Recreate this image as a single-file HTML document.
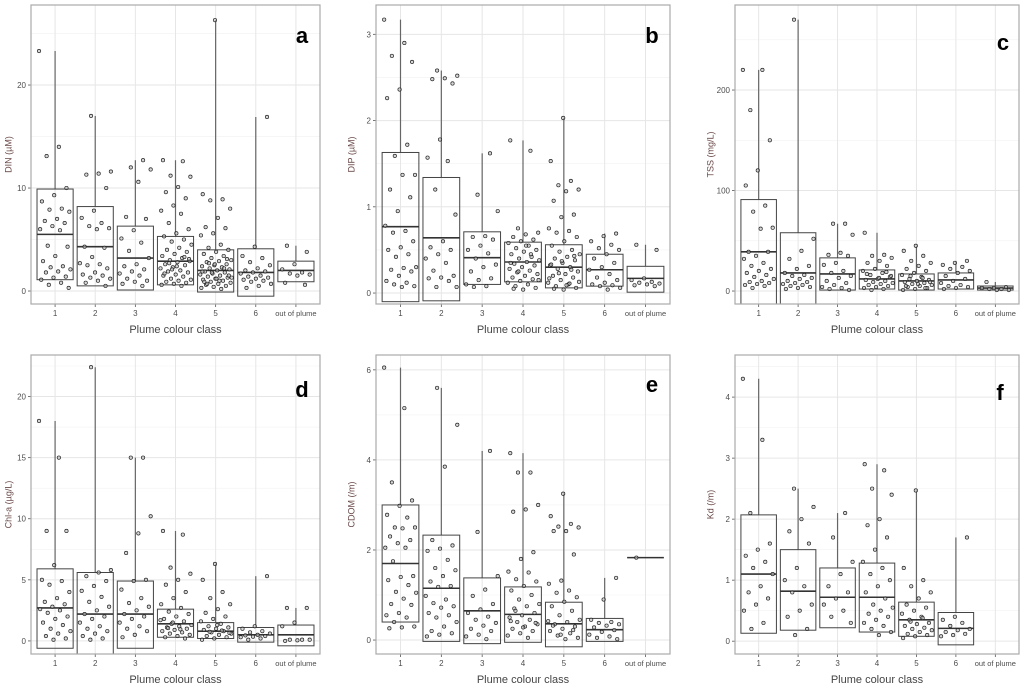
<!DOCTYPE html>
<html><head><meta charset="utf-8"><style>
body{margin:0;background:#fff;width:1024px;height:689px;overflow:hidden}
svg text{font-family:"Liberation Sans",sans-serif}
</style></head><body>
<svg id="fig" width="1024" height="689"></svg>
<script>
const categories=["1","2","3","4","5","6","out of plume"];
const aLo=[1.1,0.5,0.1,0.6,-0.1,-0.5,0.9],aMed=[5.5,4.3,3.2,2.9,2.0,1.8,2.0],aHi=[9.9,8.2,6.3,5.3,4.0,4.1,2.9],aMax=[23.3,17,12.7,12.7,26.3,16.9,4.4];
const aPts=[[23.3,14,13.1,10,9.3,8.7,8,7.9,7.7,7,6.8,6.6,6.3,6,5.9,4.4,4.3,3.4,2.9,2.4,2.3,2.1,1.9,1.8,1.4,1.3,1.1,0.8,0.6,0.3],[17,11.6,11.4,11.3,10,7.8,7.1,6.6,6.3,6.1,6,4.3,4.2,3.3,2.7,2.6,2.5,2.2,1.8,1.6,1.5,1.3,1.2,1,0.8,0.5],[12.7,12,11.8,10.6,7.2,7,5.9,5.1,4.7,3.9,3.2,2.6,2.4,2.1,1.9,1.7,1.5,1.2,1,0.9,0.7,0.5],[12.7,12.6,11.2,11.1,10.1,9.6,9,8.3,7.8,7.5,6.6,6,5.6,5.3,5,4.8,4.5,4.2,4,3.8,3.6,3.4,3.2,3,2.9,2.8,2.6,2.5,2.3,2.2,2,1.9,1.8,1.6,1.5,1.4,1.2,1.1,1,0.9,0.8,0.7,0.6,0.5,2.7,3.1,2.4,1.7,3.3,2.1],[26.3,9.4,8.9,8.8,8,7.1,6.2,6.1,5.6,5.4,4.5,4.2,4,3.8,3.6,3.4,3.2,3,2.9,2.8,2.6,2.5,2.4,2.3,2.2,2.1,2,1.9,1.8,1.7,1.6,1.5,1.4,1.3,1.2,1.1,1,0.9,0.8,0.7,0.6,0.5,0.4,0.3,0.2,2.7,1.5,1.2,0.9,2.2,1.8,1.3,1.0,0.7,3.1,2.6,1.9],[16.9,4.3,3.4,3.2,2.8,2.5,2.2,2,1.9,1.8,1.7,1.5,1.4,1.3,1.2,1.1,1,0.9,0.7,0.5,0.3],[4.4,3.8,2.6,2.1,1.8,1.7,1.6,1.5,0.8,0.6]];
const bLo=[-0.1,-0.09,0.1,0.13,0.06,0.08,0.01],bMed=[0.77,0.64,0.41,0.36,0.30,0.27,0.17],bHi=[1.63,1.34,0.71,0.59,0.56,0.45,0.31],bMax=[3.17,2.58,1.62,1.77,2.03,0.69,0.56];
const bPts=[[3.17,2.9,2.75,2.68,2.36,2.26,1.72,1.59,1.37,1.37,1.2,1.11,0.95,0.78,0.72,0.7,0.6,0.53,0.5,0.45,0.42,0.3,0.29,0.27,0.25,0.2,0.14,0.12,0.1,0.08,0.07],[2.58,2.52,2.49,2.48,2.43,1.78,1.57,1.53,1.2,0.91,0.6,0.53,0.5,0.45,0.4,0.35,0.26,0.2,0.18,0.17,0.14,0.07,0.07],[1.62,1.14,0.95,0.66,0.65,0.62,0.55,0.5,0.46,0.4,0.33,0.3,0.25,0.17,0.15,0.1,0.08,0.07],[1.77,1.65,0.75,0.7,0.68,0.65,0.62,0.6,0.58,0.55,0.52,0.5,0.48,0.45,0.42,0.4,0.38,0.36,0.34,0.32,0.3,0.28,0.26,0.24,0.22,0.2,0.18,0.16,0.14,0.12,0.1,0.08,0.06,0.04,0.35,0.45,0.25,0.15,0.55,0.05],[2.03,1.53,1.3,1.25,1.2,1.18,1.07,0.91,0.88,0.75,0.72,0.7,0.65,0.6,0.55,0.5,0.48,0.45,0.42,0.4,0.38,0.35,0.32,0.3,0.28,0.25,0.22,0.2,0.18,0.15,0.12,0.1,0.08,0.06,0.04,0.33,0.27,0.23,0.13,0.09,0.05,0.43,0.37,0.17,0.11],[0.69,0.66,0.6,0.56,0.52,0.5,0.45,0.4,0.35,0.3,0.27,0.22,0.18,0.15,0.12,0.1,0.09,0.08,0.06,0.04],[0.56,0.5,0.17,0.15,0.13,0.12,0.11,0.1,0.09,0.08]];
const cLo=[-40,-40,1,2,1,2,1],cMed=[39,18,17,12,10,11,3],cHi=[91,58,33,21,17,18,5],cMax=[220,270,67,58,45,30,9];
const cPts=[[220,220,180,150,120,105,85,79,63,62,39,39,35,32,28,25,22,20,18,16,14,12,10,9,8,7,6,5,3],[270,52,40,32,25,22,18,16,15,13,12,10,9,8,7,6,5,4,3,2],[67,67,56,38,36,35,28,26,20,18,15,13,10,8,6,4,3,2,1],[58,36,35,33,30,28,25,22,20,18,16,14,12,11,10,9,8,7,6,5,4,3,2,1,15,13,17,19],[45,40,35,30,28,25,22,20,18,16,14,12,11,10,9,8,7,6,5,4,3,2,1,13,15,9,7,5,3],[30,28,26,24,22,20,18,15,12,10,8,6,5,4,3,2],[9,4,3,3,2,2,1,1]];
const dLo=[-0.6,-1.2,-0.6,0.3,0.2,-0.1,-0.4],dMed=[2.7,2.2,2.2,1.4,0.8,0.5,0.5],dHi=[5.9,5.6,4.9,2.6,1.5,1.1,1.3],dMax=[18,22.4,15,9,6.3,5.3,2.7];
const dPts=[[18,15,9,9,6.2,5,4.9,4.6,4,3.5,3.2,3,2.8,2.6,2.5,2.3,2,1.8,1.5,1.3,1,0.8,0.6,0.4,0.2,0.1],[22.4,5.8,5.6,5.3,4.9,4.5,4.1,3.6,3.2,2.8,2.5,2.2,2,1.8,1.5,1.2,1,0.8,0.6,0.4,0.2,0.1],[15,15,10.2,8.8,7.2,5,4.9,4.2,3.5,3.1,2.8,2.5,2.2,2,1.8,1.5,1.2,1,0.8,0.5,0.3],[9,8.7,6,5.5,5,4.6,4,3.5,3,2.7,2.4,2.2,2,1.8,1.6,1.4,1.3,1.2,1.1,1,0.9,0.8,0.7,0.6,0.5,0.4,0.3,0.2,1.5,1.7,0.95,1.05],[6.3,5,4,3.5,3,2.6,2.3,2,1.8,1.6,1.4,1.2,1.1,1,0.9,0.8,0.7,0.6,0.5,0.4,0.3,0.2,0.1,0.85,0.75,0.65,1.3],[5.3,1.2,1,0.8,0.7,0.6,0.5,0.45,0.4,0.35,0.3,0.2,0.1],[2.7,2.7,1.5,1.2,0.1,0.1,0.1,0.05,0]];
const eLo=[0.4,-0.03,-0.08,-0.05,-0.15,-0.03,1.83],eMed=[1.7,1.15,0.65,0.57,0.36,0.23,1.83],eHi=[3.0,2.33,1.38,1.18,0.84,0.48,1.83],eMax=[6.05,5.6,4.2,4.15,3.25,1.38,1.83];
const ePts=[[6.05,5.15,3.5,3.1,2.98,2.78,2.72,2.5,2.5,2.48,2.3,2.22,2.15,2.05,2.05,1.75,1.42,1.4,1.33,1.22,1.07,1.05,0.92,0.8,0.78,0.6,0.55,0.5,0.4,0.3,0.28,0.26],[5.6,4.78,3.85,2.22,2.1,2.03,1.98,1.78,1.6,1.55,1.42,1.3,1.2,1.18,0.98,0.9,0.82,0.75,0.72,0.6,0.55,0.5,0.4,0.3,0.2,0.15,0.12,0.08],[4.2,2.4,1.42,1.12,0.98,0.8,0.68,0.6,0.52,0.45,0.38,0.32,0.25,0.2,0.12,0.08,0.02],[4.15,3.72,3.72,3.0,2.9,2.85,1.95,1.8,1.52,1.5,1.35,1.3,1.2,1.1,1,0.9,0.8,0.75,0.7,0.6,0.55,0.5,0.45,0.4,0.35,0.3,0.25,0.2,0.15,0.1,0.05,0.65,0.38,0.28,0.42],[3.25,2.75,2.58,2.52,2.5,2.42,2.42,1.9,1.32,1.25,1.1,1.05,0.95,0.85,0.75,0.65,0.55,0.45,0.4,0.35,0.3,0.25,0.2,0.15,0.1,0.05,0.02,0.32,0.22,0.12,0.42],[1.38,0.9,0.45,0.4,0.38,0.35,0.32,0.28,0.22,0.18,0.12,0.08,0.05,0.02],[1.83]];
const fLo=[0.13,0.18,0.22,0.15,0.08,-0.06,null],fMed=[1.1,0.82,0.72,0.72,0.35,0.21,null],fHi=[2.07,1.5,1.2,1.28,0.64,0.47,null],fMax=[4.3,2.5,2.1,2.9,2.47,1.7,null];
const fPts=[[4.3,3.3,2.1,1.6,1.5,1.4,1.3,1.2,1.1,0.9,0.8,0.7,0.6,0.5,0.3,0.2],[2.5,2.2,2,1.8,1.6,1.2,1,0.9,0.8,0.6,0.5,0.4,0.2,0.1],[2.1,1.7,1.3,1.1,0.9,0.8,0.7,0.6,0.5,0.4,0.3],[2.9,2.8,2.5,2.4,2,1.9,1.7,1.5,1.3,1.2,1.1,1,0.9,0.8,0.7,0.6,0.55,0.5,0.45,0.4,0.35,0.3,0.25,0.2,0.15,0.1],[2.47,1.2,1,0.9,0.8,0.7,0.6,0.55,0.5,0.45,0.4,0.35,0.3,0.28,0.25,0.22,0.2,0.18,0.15,0.12,0.1,0.08,0.05,0.38,0.32],[1.7,0.4,0.35,0.3,0.25,0.2,0.18,0.15,0.12,0.1,0.08],[]];
const aTicks=[0,10,20],bTicks=[0,1,2,3],cTicks=[0,100,200],dTicks=[0,5,10,15,20],eTicks=[0,2,4,6],fTicks=[0,1,2,3,4];

const NS="http://www.w3.org/2000/svg",svg=document.getElementById('fig');
function mk(tag,at,parent){const e=document.createElementNS(NS,tag);for(const k in at)e.setAttribute(k,at[k]);(parent||svg).appendChild(e);return e;}
const panels=[
 {id:'a',title:'DIN (µM)',L:31,T:5,R:320,B:304,y0:-1.26,y1:27.77,lo:aLo,med:aMed,hi:aHi,mx:aMax,pts:aPts,ticks:aTicks,tx:9,lx:302,ly:43},
 {id:'b',title:'DIP (µM)',L:376,T:5,R:670,B:304,y0:-0.127,y1:3.34,lo:bLo,med:bMed,hi:bHi,mx:bMax,pts:bPts,ticks:bTicks,tx:352,lx:652,ly:43},
 {id:'c',title:'TSS (mg/L)',L:735,T:5,R:1019,B:304,y0:-12.9,y1:284.6,lo:cLo,med:cMed,hi:cHi,mx:cMax,pts:cPts,ticks:cTicks,tx:711,lx:1003,ly:50},
 {id:'d',title:'Chl-a (µg/L)',L:31,T:355,R:320,B:654,y0:-1.07,y1:23.4,lo:dLo,med:dMed,hi:dHi,mx:dMax,pts:dPts,ticks:dTicks,tx:9,lx:302,ly:397},
 {id:'e',title:'CDOM (/m)',L:376,T:355,R:670,B:654,y0:-0.31,y1:6.33,lo:eLo,med:eMed,hi:eHi,mx:eMax,pts:ePts,ticks:eTicks,tx:352,lx:652,ly:392},
 {id:'f',title:'Kd (/m)',L:735,T:355,R:1019,B:654,y0:-0.21,y1:4.69,lo:fLo,med:fMed,hi:fHi,mx:fMax,pts:fPts,ticks:fTicks,tx:711,lx:1000,ly:400}];
panels.forEach(p=>{
 const g=mk('g',{});
 
 
 const cp=mk('clipPath',{id:'cp'+p.id},g);mk('rect',{x:p.L,y:p.T,width:p.R-p.L,height:p.B-p.T},cp);
 const ys=v=>p.B-(v-p.y0)/(p.y1-p.y0)*(p.B-p.T);
 const step=(p.R-p.L)/7.2,xs=i=>p.L+(0.6+i)*step;
 for(let i=0;i<p.ticks.length;i++){
   const t=p.ticks[i];
   if(i<p.ticks.length){const h=t+(p.ticks[1]-p.ticks[0])/2;if(h<p.y1)mk('line',{x1:p.L,x2:p.R,y1:ys(h),y2:ys(h),stroke:'#f2f2f2','stroke-width':0.6},g);}
   const mh=t-(p.ticks[1]-p.ticks[0])/2; if(i==0&&mh>p.y0)mk('line',{x1:p.L,x2:p.R,y1:ys(mh),y2:ys(mh),stroke:'#f2f2f2','stroke-width':0.6},g);
   mk('line',{x1:p.L,x2:p.R,y1:ys(t),y2:ys(t),stroke:'#e6e6e6','stroke-width':1},g);
   mk('line',{x1:p.L-3,x2:p.L,y1:ys(t),y2:ys(t),stroke:'#555','stroke-width':0.8},g);
   const tl=mk('text',{x:p.L-5,y:ys(t)+3,'text-anchor':'end','font-size':8,fill:'#4d4d4d'},g);tl.textContent=t;
   
   
 }
 categories.forEach((c,i)=>{
   mk('line',{x1:xs(i),x2:xs(i),y1:p.T,y2:p.B,stroke:'#e6e6e6','stroke-width':1},g);
   mk('line',{x1:xs(i),x2:xs(i),y1:p.B,y2:p.B+3,stroke:'#555','stroke-width':0.8},g);
   const tl=mk('text',{x:xs(i),y:p.B+12,'text-anchor':'middle','font-size':i==6?7.5:8,fill:'#4d4d4d'},g);tl.textContent=c;
   
   
 });
 const cg=mk('g',{'clip-path':'url(#cp'+p.id+')'},g);
 const bw=step*0.9;
 categories.forEach((c,i)=>{
   if(p.mx[i]==null)return;
   const x=xs(i);
   const wl=mk('line',{x1:x,x2:x,y1:ys(p.hi[i]),y2:ys(p.mx[i]),stroke:'#666','stroke-width':1.2},cg);
   
   
   if(p.hi[i]>p.lo[i]){
     const r=mk('rect',{x:x-bw/2,y:ys(p.hi[i]),width:bw,height:ys(p.lo[i])-ys(p.hi[i]),fill:'none',stroke:'#444','stroke-width':1},cg);
     
     
   }
   const m=mk('line',{x1:x-bw/2,x2:x+bw/2,y1:ys(p.med[i]),y2:ys(p.med[i]),stroke:'#333','stroke-width':1.6},cg);
   
   
   p.pts[i].forEach((v,j)=>{
     const jit=(((j*0.618034)+i*0.37)%1-0.5)*step*0.8;
     const pt=mk('circle',{cx:x+jit,cy:ys(v),r:1.7,fill:'#bbb','fill-opacity':0.6,stroke:'#222','stroke-width':0.7},cg);
     
     
   });
 });
 const fr=mk('rect',{x:p.L,y:p.T,width:p.R-p.L,height:p.B-p.T,fill:'none',stroke:'#aaa','stroke-width':1.2},g);
 
 
 const xt=mk('text',{x:(p.L+p.R)/2,y:p.B+29,'text-anchor':'middle','font-size':11,fill:'#444'},g);xt.textContent='Plume colour class';
 
 
 const cy=(p.T+p.B)/2;
 const yt=mk('text',{x:p.tx,y:cy,'text-anchor':'middle','font-size':9,fill:'#6b4a4a',transform:'rotate(-90 '+(p.tx)+' '+cy+')','dominant-baseline':'middle'},g);yt.textContent=p.title;
 
 
 const lb=mk('text',{x:p.lx,y:p.ly,'text-anchor':'middle','font-size':22,'font-weight':'bold',fill:'#000'},g);lb.textContent=p.id;
 
 
});
</script>
</body></html>
